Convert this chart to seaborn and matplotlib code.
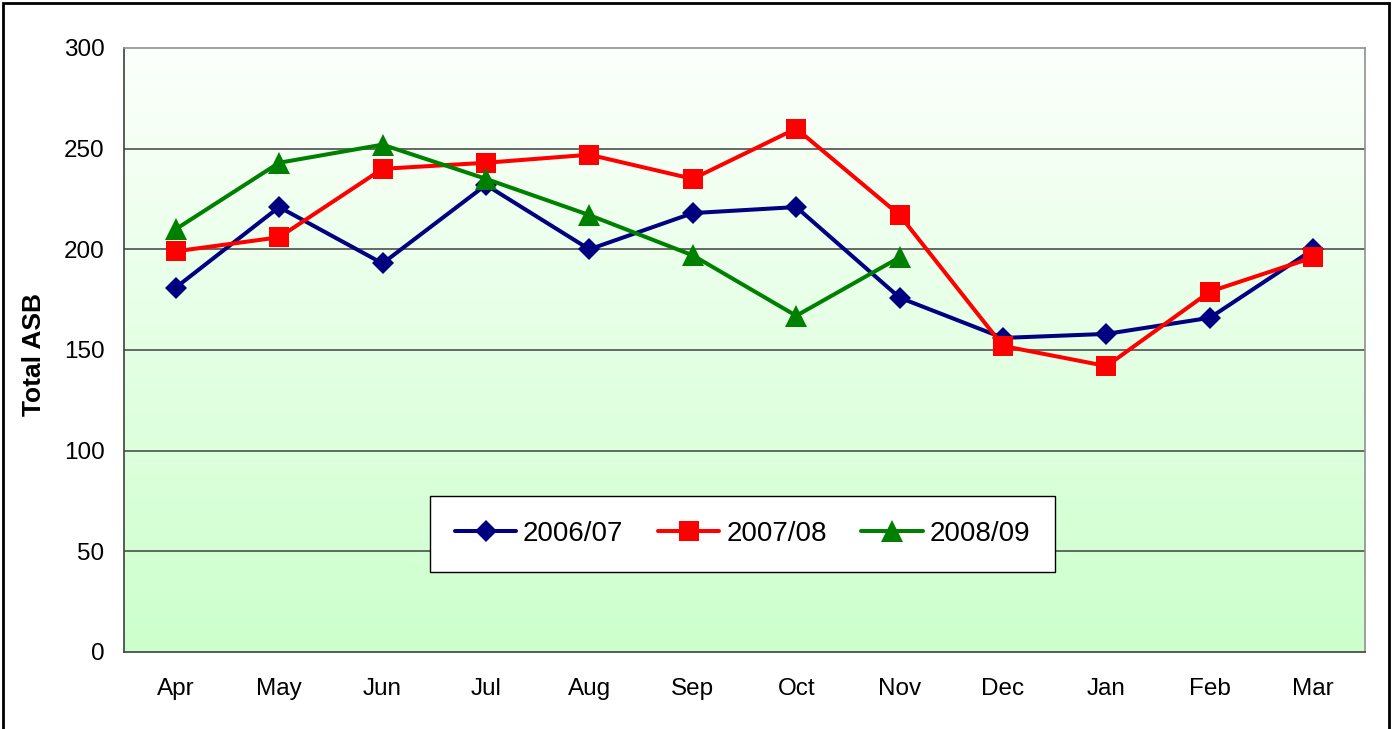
import numpy as np
import pandas as pd
import matplotlib
matplotlib.use("Agg")
import matplotlib.pyplot as plt
from matplotlib.patches import Rectangle
import seaborn as sns

months = ["Apr", "May", "Jun", "Jul", "Aug", "Sep", "Oct", "Nov", "Dec", "Jan", "Feb", "Mar"]
s0607 = [181, 221, 193, 232, 200, 218, 221, 176, 156, 158, 166, 200]
s0708 = [199, 206, 240, 243, 247, 235, 260, 217, 152, 142, 179, 196]
s0809 = [210, 243, 252, 235, 217, 197, 167, 196]
seasons = ["2006/07", "2007/08", "2008/09"]

series = {"2006/07": s0607, "2007/08": s0708, "2008/09": s0809}
colors = {"2006/07": "#000080", "2007/08": "#ff0000", "2008/09": "#008000"}
markers = {"2006/07": "D", "2007/08": "s", "2008/09": "^"}
msizes = {"2006/07": 11.5, "2007/08": 14.5, "2008/09": 16}

rows = []
for name in seasons:
    for m, v in zip(months, series[name]):
        rows.append({"month": m, "pos": months.index(m), "value": v, "season": name})
df = pd.DataFrame(rows)

sns.set_style("white")
plt.rcParams["font.family"] = ["Liberation Sans", "DejaVu Sans"]
plt.rcParams["text.color"] = "black"
plt.rcParams["xtick.color"] = "black"
plt.rcParams["ytick.color"] = "black"

fig = plt.figure(figsize=(13.95, 7.29), dpi=100)
ax = fig.add_axes([124 / 1395, (729 - 652) / 729, 1241 / 1395, 604 / 729])

# gradient background (white at top to pale green at bottom)
top = np.array([252, 255, 252]) / 255
bot = np.array([204, 255, 204]) / 255
t = np.linspace(0, 1, 256)[:, None]
grad = (top * (1 - t) + bot * t)[:, None, :]
ax.imshow(grad, extent=[-0.5, 11.5, 0, 300], aspect="auto", zorder=0,
          interpolation="bilinear")

for y in [50, 100, 150, 200, 250]:
    ax.axhline(y, color="#404040", lw=1.1, zorder=1)

for name in seasons:
    sub = df[df["season"] == name]
    sns.lineplot(data=sub, x="pos", y="value", ax=ax, color=colors[name],
                 marker=markers[name], markersize=msizes[name], lw=2.9,
                 markeredgewidth=0, label=name, zorder=3)

ax.set_xlim(-0.5, 11.5)
ax.set_ylim(0, 300)
ax.set_yticks(range(0, 301, 50))
ax.set_xticks(range(12))
ax.set_xticklabels(months)
ax.set_xticks(np.arange(-0.5, 12, 1), minor=True)
ax.tick_params(axis="x", which="major", length=0, pad=19, labelsize=17.5)
ax.tick_params(axis="x", which="minor", length=7, width=1, color="#404040", direction="out")
ax.tick_params(axis="y", length=7, width=1, color="#404040", direction="out", pad=7, labelsize=17.5)
ax.set_xlabel("")
ax.set_ylabel("")

for side in ["left", "bottom"]:
    ax.spines[side].set_color("#404040")
    ax.spines[side].set_linewidth(1.2)
for side in ["top", "right"]:
    ax.spines[side].set_color("#909090")
    ax.spines[side].set_linewidth(1.2)
    ax.spines[side].set_visible(True)

fig.text(34 / 1395, (729 - 354) / 729, "Total ASB", rotation=90, ha="center",
         va="center", fontsize=19, fontweight="bold")

leg = ax.legend(loc="center", bbox_to_anchor=(0.4984, 0.196), ncol=3,
                fontsize=20, frameon=True, fancybox=False, framealpha=1,
                edgecolor="black", handlelength=2.2, columnspacing=1.25,
                handletextpad=0.25, borderpad=0.9, borderaxespad=0)
leg.get_frame().set_linewidth(1)

fig.patches.append(Rectangle((3 / 1395, -0.02), (1389 - 3) / 1395, 1.016,
                             transform=fig.transFigure, fill=False,
                             edgecolor="black", lw=2))

fig.savefig("out.png", dpi=100)
